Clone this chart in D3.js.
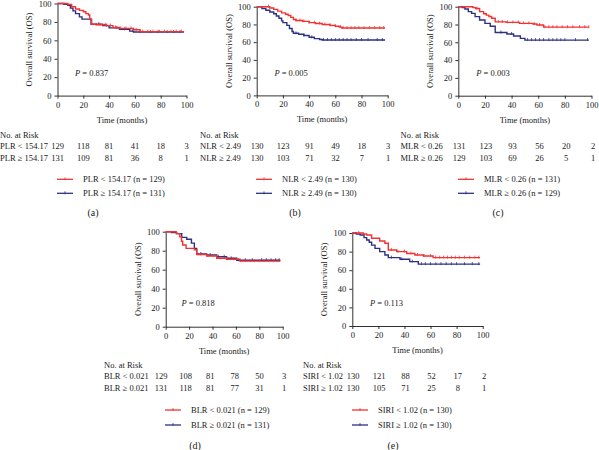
<!DOCTYPE html>
<html><head><meta charset="utf-8">
<script src="https://cdn.jsdelivr.net/npm/d3@7/dist/d3.min.js"></script>
<style>body{margin:0;background:#fff}svg{display:block}text{font-family:"Liberation Serif","Times New Roman",serif;fill:#1a1a1a}</style>
</head><body>
<svg id="c" width="599" height="450"></svg>
<script>
// ---------- DATA ----------
const xTicks = [0, 20, 40, 60, 80, 100];
const yTicks = [0, 20, 40, 60, 80, 100];
const endTime = 98;

// PLR
const plrLowTime = [0, 8, 11, 14, 17, 20, 22, 24, 25, 26.5, 30, 38, 43, 48, 59, 64];
const plrLowSurv = [100, 99, 96.5, 94, 92.5, 91, 89, 87.5, 83, 77.5, 77, 76, 74, 73, 71.5, 69.5];
const plrHighTime = [0, 5, 8, 10, 12, 14, 17, 19, 26, 35, 40, 48, 56, 59];
const plrHighSurv = [100, 99, 98, 95, 92, 89, 85.5, 83, 77.5, 76, 73.5, 72, 70, 69];
const plrLowCensor = [30, 33, 37, 41, 45, 49, 53, 57, 61, 66, 70, 74, 79, 83, 88, 92, 96];
const plrHighCensor = [32, 38, 46, 52, 58, 64, 72, 78, 85, 90, 95];
const plrRiskLow = [129, 118, 81, 41, 18, 3];
const plrRiskHigh = [131, 109, 81, 36, 8, 1];

// NLR
const nlrLowTime = [0, 10, 13, 16, 19, 22, 24, 26, 28, 30, 35, 40, 45, 50, 56, 60, 63, 65];
const nlrLowSurv = [100, 98.5, 97, 95, 93, 91.5, 90, 88, 85.5, 84.5, 83.5, 82, 81, 80, 79, 78, 77, 76];
const nlrHighTime = [0, 4, 7, 10, 13, 15, 17, 19, 20, 23, 25, 27, 28, 32, 36, 40, 44, 48, 50];
const nlrHighSurv = [100, 98, 96, 94, 92, 89.5, 87, 84, 82, 79, 75.5, 72, 70, 69, 67.5, 65.5, 64, 63, 62.5];
const nlrLowCensor = [9, 30, 33, 36, 40, 44, 48, 52, 56, 60, 64, 66, 69, 72, 75, 78, 82, 86, 90, 94, 97];
const nlrHighCensor = [30, 36, 42, 51, 54, 57, 60, 63, 66, 69, 72, 76, 80, 85, 92, 96];
const nlrRiskLow = [130, 123, 91, 49, 18, 3];
const nlrRiskHigh = [130, 103, 71, 32, 7, 1];

// MLR
const mlrLowTime = [0, 11, 13, 16, 19, 21, 23, 25, 27.7, 36, 46, 56, 59, 64];
const mlrLowSurv = [100, 99, 98, 94.5, 92, 90.5, 89, 87, 83, 82.4, 81.3, 80.5, 79.4, 77];
const mlrHighTime = [0, 3, 5, 7.5, 10, 12.6, 16, 20, 24, 27.7, 36.5, 41.5, 46.6, 50];
const mlrHighSurv = [100, 99, 97.5, 94.5, 92.5, 88.8, 85, 81.3, 78, 71, 69.3, 67, 64.4, 62.5];
const mlrLowCensor = [14, 30, 33, 37, 41, 45, 49, 53, 57, 61, 65, 68, 71, 74, 78, 82, 86, 91, 95, 98];
const mlrHighCensor = [32, 40, 52, 55, 58, 61, 64, 68, 71, 74, 77, 80, 88, 97];
const mlrRiskLow = [131, 123, 93, 56, 20, 2];
const mlrRiskHigh = [129, 103, 69, 26, 5, 1];

// BLR
const blrLowTime = [0, 9, 12, 13.5, 14.5, 17.4, 24.5, 26.5, 35, 43.6, 52, 63.5];
const blrLowSurv = [100, 98, 94.7, 90, 86, 82.5, 81, 76, 74.4, 72, 71, 69];
const blrHighTime = [0, 5, 9.4, 13.7, 18, 22, 24.5, 26.5, 35, 43.6, 52, 60.7];
const blrHighSurv = [100, 99, 98, 94, 92, 88, 82.5, 76.5, 75.4, 73.7, 72, 70];
const blrLowCensor = [30, 36, 41, 47, 53, 58, 64, 68, 72, 76, 80, 84, 88, 92, 96];
const blrHighCensor = [30, 38, 45, 50, 56, 62, 68, 74, 82, 86, 90, 94, 97];
const blrRiskLow = [129, 108, 81, 78, 50, 3];
const blrRiskHigh = [131, 118, 81, 77, 31, 1];

// SIRI
const siriLowTime = [0, 8.4, 11, 14.8, 21, 25, 27.6, 34, 41.7, 48, 54.5, 62];
const siriLowSurv = [100, 99, 97.8, 94.3, 91.4, 88.9, 81.7, 80, 78, 76.3, 75.3, 73.5];
const siriHighTime = [0, 3, 6, 9, 11, 13, 14.8, 17.4, 21, 25, 27.6, 36.6, 44, 50.6];
const siriHighSurv = [100, 99, 97.8, 95, 92.5, 90, 87, 83.5, 80, 76.3, 73.5, 71.7, 69.2, 66.5];
const siriLowCensor = [5, 30, 35, 40, 45, 50, 55, 60, 64, 67, 70, 73, 76, 79, 82, 86, 90, 94, 97];
const siriHighCensor = [30, 38, 46, 53, 56, 60, 64, 68, 72, 76, 80, 86, 92, 97];
const siriRiskLow = [130, 121, 88, 52, 17, 2];
const siriRiskHigh = [130, 105, 71, 25, 8, 1];

const groupLabelsLow = ["PLR < 154.17", "NLR < 2.49", "MLR < 0.26", "BLR < 0.021", "SIRI < 1.02"];
const groupLabelsHigh = ["PLR \u2265 154.17", "NLR \u2265 2.49", "MLR \u2265 0.26", "BLR \u2265 0.021", "SIRI \u2265 1.02"];
const nLow = [129, 130, 131, 129, 130];
const nHigh = [131, 130, 129, 131, 130];
const pValues = ["0.837", "0.005", "0.003", "0.818", "0.113"];
const panelLetters = ["(a)", "(b)", "(c)", "(d)", "(e)"];

// ---------- LAYOUT ----------
const RED = "#f23232", BLUE = "#2c3182";
const panels = [
  {x0: 57.5, x1: 186.5, yT: 3.5, yB: 95.6, left: 0, top: 0, tab0: 57.5, tab1: 186.5, legX: 57, letterX: 93,
   lowT: plrLowTime, lowS: plrLowSurv, highT: plrHighTime, highS: plrHighSurv, lowC: plrLowCensor, highC: plrHighCensor, rLow: plrRiskLow, rHigh: plrRiskHigh},
  {x0: 256.7, x1: 387.7, yT: 6.7, yB: 95.4, left: 200, top: 0, tab0: 257, tab1: 388, legX: 256, letterX: 295,
   lowT: nlrLowTime, lowS: nlrLowSurv, highT: nlrHighTime, highS: nlrHighSurv, lowC: nlrLowCensor, highC: nlrHighCensor, rLow: nlrRiskLow, rHigh: nlrRiskHigh},
  {x0: 458.3, x1: 591.5, yT: 6.7, yB: 95.7, left: 400.5, top: 0, tab0: 459, tab1: 593, legX: 458, letterX: 498,
   lowT: mlrLowTime, lowS: mlrLowSurv, highT: mlrHighTime, highS: mlrHighSurv, lowC: mlrLowCensor, highC: mlrHighCensor, rLow: mlrRiskLow, rHigh: mlrRiskHigh},
  {x0: 165.7, x1: 282.7, yT: 231.7, yB: 326.7, left: 104, top: 231, tab0: 161, tab1: 284, legX: 165, letterX: 195,
   lowT: blrLowTime, lowS: blrLowSurv, highT: blrHighTime, highS: blrHighSurv, lowC: blrLowCensor, highC: blrHighCensor, rLow: blrRiskLow, rHigh: blrRiskHigh},
  {x0: 352.3, x1: 482.7, yT: 233, yB: 326, left: 303, top: 231, tab0: 353, tab1: 484, legX: 352, letterX: 393,
   lowT: siriLowTime, lowS: siriLowSurv, highT: siriHighTime, highS: siriHighSurv, lowC: siriLowCensor, highC: siriHighCensor, rLow: siriRiskLow, rHigh: siriRiskHigh}
];

const svg = d3.select("#c");
const FS = 8.5;

panels.forEach((p, i) => {
  const g = svg.append("g");
  const x = d3.scaleLinear().domain([0, 100]).range([p.x0, p.x1]);
  const y = d3.scaleLinear().domain([0, 100]).range([p.yB, p.yT]);
  const xa = g.append("g").attr("transform", `translate(0,${p.yB})`)
    .call(d3.axisBottom(x).tickValues(xTicks).tickSize(3).tickSizeOuter(0).tickPadding(3));
  const ya = g.append("g").attr("transform", `translate(${p.x0},0)`)
    .call(d3.axisLeft(y).tickValues(yTicks).tickSize(3).tickSizeOuter(0).tickPadding(3));
  [xa, ya].forEach(a => {
    a.selectAll("text").style("font-family", '"Liberation Serif",serif').style("font-size", FS + "px").attr("fill", "#1a1a1a");
    a.selectAll("path,line").attr("stroke", "#1a1a1a").attr("stroke-width", 0.9);
  });
  // axis titles
  g.append("text").attr("x", (p.x0 + p.x1) / 2).attr("y", p.yB + 24).attr("dy", "0.35em").attr("text-anchor", "middle")
    .style("font-size", FS + "px").text("Time (months)");
  g.append("text").attr("transform", `translate(${p.x0 - 28},${(p.yT + p.yB) / 2}) rotate(-90)`)
    .attr("text-anchor", "middle").attr("dy", "0.35em").style("font-size", FS + "px").text("Overall survival (OS)");
  // P value
  const pt = g.append("text").attr("x", x(13.5)).attr("y", y(25)).attr("dy", "0.35em").style("font-size", FS + "px");
  pt.append("tspan").style("font-style", "italic").text("P");
  pt.append("tspan").text(" = " + pValues[i]);

  // curves
  const line = d3.line().x(d => x(d[0])).y(d => y(d[1])).curve(d3.curveStepAfter);
  const survAt = (T, S, t) => { let v = S[0]; for (let k = 0; k < T.length; k++) if (T[k] <= t) v = S[k]; return v; };
  const draw = (T, S, C, col) => {
    const pts = T.map((t, k) => [t, S[k]]);
    pts.push([endTime, S[S.length - 1]]);
    g.append("path").attr("d", line(pts)).attr("fill", "none").attr("stroke", col).attr("stroke-width", 1.4);
    g.selectAll(null).data(C).enter().append("line")
      .attr("x1", d => x(d)).attr("x2", d => x(d))
      .attr("y1", d => y(survAt(T, S, d)) - 2).attr("y2", d => y(survAt(T, S, d)) + 1)
      .attr("stroke", col).attr("stroke-width", 0.8);
  };
  draw(p.highT, p.highS, p.highC, BLUE);
  draw(p.lowT, p.lowS, p.lowC, RED);

  // risk table
  const tx = d3.scaleLinear().domain([0, 100]).range([p.tab0, p.tab1]);
  const baseY = i < 3 ? 135 : 365;
  g.append("text").attr("x", p.left).attr("y", baseY).attr("dy", "0.35em").style("font-size", FS + "px").text("No. at Risk");
  [[groupLabelsLow[i], p.rLow, baseY + 11], [groupLabelsHigh[i], p.rHigh, baseY + 23.3]].forEach(([lab, vals, yy]) => {
    g.append("text").attr("x", p.left).attr("y", yy).attr("dy", "0.35em").style("font-size", FS + "px").text(lab);
    g.selectAll(null).data(vals).enter().append("text")
      .attr("x", (d, k) => tx(xTicks[k])).attr("y", yy).attr("dy", "0.35em").attr("text-anchor", "middle")
      .style("font-size", FS + "px").text(d => d);
  });
  // legend
  const legY = i < 3 ? [179.3, 193.3] : [410, 425];
  [[RED, groupLabelsLow[i] + " (n = " + nLow[i] + ")"], [BLUE, groupLabelsHigh[i] + " (n = " + nHigh[i] + ")"]].forEach(([col, lab], k) => {
    const ly = legY[k];
    g.append("line").attr("x1", p.legX).attr("x2", p.legX + 16).attr("y1", ly).attr("y2", ly).attr("stroke", col).attr("stroke-width", 1.3);
    g.append("line").attr("x1", p.legX + 8).attr("x2", p.legX + 8).attr("y1", ly - 2).attr("y2", ly + 1).attr("stroke", col).attr("stroke-width", 0.8);
    g.append("text").attr("x", p.legX + 26).attr("y", ly).attr("dy", "0.35em").style("font-size", FS + "px").text(lab);
  });
  g.append("text").attr("x", p.letterX).attr("y", i < 3 ? 212.5 : 445).attr("dy", "0.35em").attr("text-anchor", "middle")
    .style("font-size", "10px").text(panelLetters[i]);
});
</script>
</body></html>
